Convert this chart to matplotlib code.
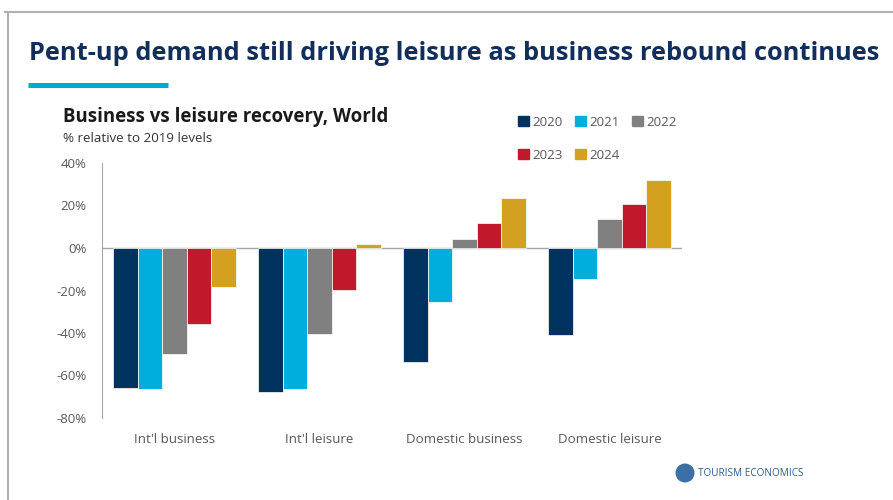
import numpy as np
import matplotlib
matplotlib.use("Agg")
import matplotlib.pyplot as plt
from matplotlib.patches import Patch, Circle
from matplotlib.lines import Line2D

# data (% vs 2019)
categories = ["Int'l business", "Int'l leisure", "Domestic business", "Domestic leisure"]
years = ["2020", "2021", "2022", "2023", "2024"]
v2020 = [-66.0, -67.8, -53.6, -41.0]
v2021 = [-66.3, -66.4, -25.4, -14.6]
v2022 = [-50.0, -40.5, 4.2, 13.6]
v2023 = [-35.8, -19.8, 11.8, 20.7]
v2024 = [-18.4, 2.0, 23.5, 32.0]
yticks = [40, 20, 0, -20, -40, -60, -80]

colors = ["#00325F", "#00AEDB", "#808080", "#C0192B", "#D4A020"]
navy = "#112E5C"
grey = "#595959"

plt.rcParams["font.family"] = ["Open Sans", "DejaVu Sans"]

fig = plt.figure(figsize=(8.93, 5.0), dpi=100)
W, H = 893, 500

# slide frame (top + left grey rule)
fig.add_artist(Line2D([5 / W, 1], [1 - 12 / H] * 2, color="#B0B0B0", lw=1.5,
                      transform=fig.transFigure))
fig.add_artist(Line2D([8 / W] * 2, [0, 1 - 12 / H], color="#B0B0B0", lw=1.5,
                      transform=fig.transFigure))

fig.text(29 / W, 1 - 54 / H, "Pent-up demand still driving leisure as business rebound continues",
         fontsize=18.3, fontweight="bold", color=navy, va="center", ha="left")
fig.add_artist(Line2D([28 / W, 168 / W], [1 - 84.5 / H] * 2, color="#00A9D8", lw=3.6,
                      solid_capstyle="butt", transform=fig.transFigure))

fig.text(63 / W, 1 - 117 / H, "Business vs leisure recovery, World", fontsize=13.4,
         fontweight="bold", color="#1A1A1A", va="center", ha="left")
fig.text(63 / W, 1 - 138 / H, "% relative to 2019 levels", fontsize=9.6,
         color="#333333", va="center", ha="left")

ax = fig.add_axes([102 / W, 1 - 418 / H, (682 - 102) / W, (418 - 163) / H])
series = [v2020, v2021, v2022, v2023, v2024]
x = np.arange(len(categories))
bw = 24.5 / 145
for i, (vals, c) in enumerate(zip(series, colors)):
    ax.bar(x + (i - 2) * bw, vals, width=bw, color=c, edgecolor="white",
           linewidth=0.5, label=years[i], zorder=2)

ax.set_xlim(-0.5, len(categories) - 0.5)
ax.set_ylim(-80, 40)
ax.set_yticks(yticks)
ax.set_yticklabels([f"{t}%" for t in yticks])
ax.set_xticks(x)
ax.set_xticklabels(categories)
ax.axhline(0, color="#A6A6A6", lw=1, zorder=1)
for s in ["top", "right", "bottom"]:
    ax.spines[s].set_visible(False)
ax.spines["left"].set_color("#A6A6A6")
ax.tick_params(axis="both", length=0, colors=grey)
ax.tick_params(axis="y", pad=11, labelsize=9.5)
ax.tick_params(axis="x", pad=11, labelsize=9.6)

handles = [Patch(color=c) for c in colors]
order = [0, 3, 1, 4, 2]
fig.legend([handles[k] for k in order], [years[k] for k in order], ncol=3,
           loc="upper left", bbox_to_anchor=(506 / W, 1 - 104 / H), frameon=False,
           fontsize=9.6, labelcolor=grey, handlelength=0.8, handleheight=0.8,
           handletextpad=0.3, columnspacing=0.9, labelspacing=1.5)

# logo
fig.add_artist(Circle((685 / 100, (H - 473) / 100), 0.088, color="#3B6FA5",
                      transform=fig.dpi_scale_trans))
fig.text(698 / W, 1 - 474 / H, "TOURISM ECONOMICS", fontsize=7.2, color="#2E5C8A",
         va="center", ha="left")

fig.savefig("out.png", dpi=100)
